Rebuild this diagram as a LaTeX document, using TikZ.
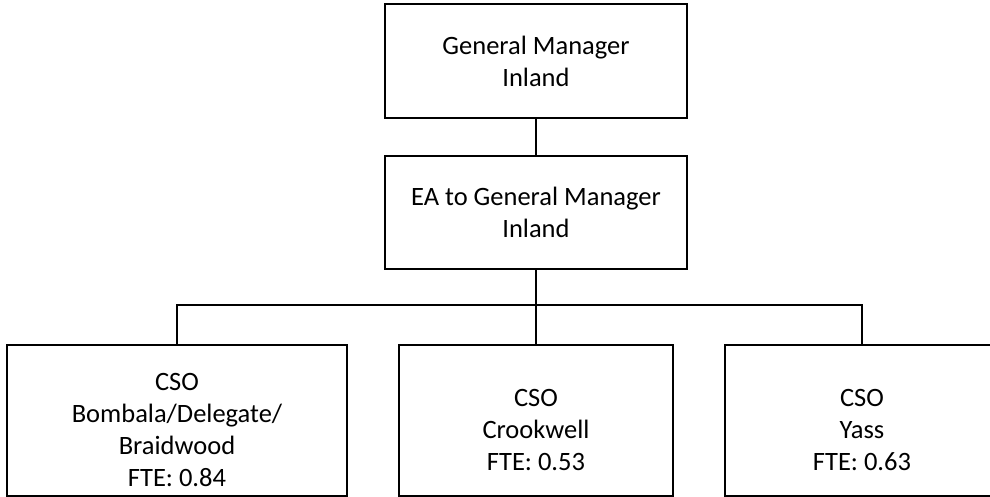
\documentclass[tikz,border=0pt]{standalone}
\usepackage{fontspec}
\setmainfont{Carlito}
\usepackage{tikz}
\newcommand{\topgap}{\rule{0pt}{36pt}}

\begin{document}
\begin{tikzpicture}[x=1pt,y=-1pt]
\useasboundingbox (0,0) rectangle (990,497);
\begin{scope}[every node/.style={rectangle,draw,line width=1.1pt,align=center,
              font=\fontsize{26.5}{32}\selectfont,inner sep=0pt}]
    \node[minimum width=302pt,minimum height=114pt] (gm) at (536,61) {General Manager\\Inland};
    \node[minimum width=302pt,minimum height=113pt] (ea) at (536,212.5) {EA to General Manager\\Inland};
    \node[minimum width=340pt,minimum height=151pt] (bombala) at (177,420.5) {\topgap CSO\\Bombala/Delegate/\\Braidwood\\FTE: 0.84};
    \node[minimum width=274pt,minimum height=151pt] (crookwell) at (536,420.5) {\topgap CSO\\Crookwell\\FTE: 0.53};
    \node[minimum width=274pt,minimum height=151pt] (yass) at (862,420.5) {\topgap CSO\\Yass\\FTE: 0.63};
\end{scope}
\coordinate (bus) at (536,305);

\begin{scope}[every path/.style={draw=black,line width=1.5pt}]
    \path (gm) -- (ea);
    \path (ea.south) -- (bus);
    \path (bus) -| (bombala.north);
    \path (bus) -| (yass.north);
    \path (bus) -- (crookwell.north);
\end{scope}
\end{tikzpicture}
\end{document}
